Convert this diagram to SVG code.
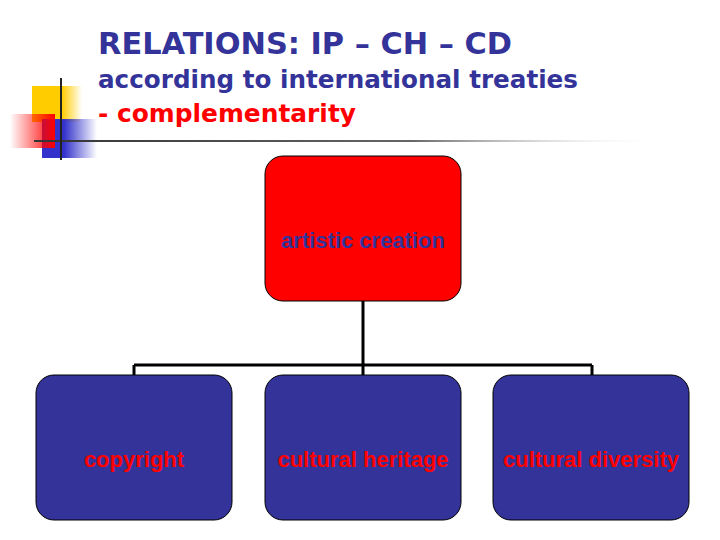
<svg xmlns="http://www.w3.org/2000/svg" width="720" height="540" viewBox="0 0 720 540">
<defs>
<linearGradient id="gy" x1="0" x2="1"><stop offset="0" stop-color="#ffcc00"/><stop offset="0.6" stop-color="#ffcc00"/><stop offset="1" stop-color="#ffcc00" stop-opacity="0"/></linearGradient>
<linearGradient id="gr" x1="0" x2="1"><stop offset="0" stop-color="#ff0000" stop-opacity="0"/><stop offset="1" stop-color="#ff0000"/></linearGradient>
<linearGradient id="gb" x1="0" x2="1"><stop offset="0" stop-color="#3333cc"/><stop offset="0.4" stop-color="#3333cc"/><stop offset="1" stop-color="#3333cc" stop-opacity="0"/></linearGradient>
<linearGradient id="gl" x1="0" x2="1"><stop offset="0" stop-color="#333333"/><stop offset="0.6" stop-color="#666666"/><stop offset="1" stop-color="#ffffff" stop-opacity="0"/></linearGradient>
</defs>
<style>
.t{font-family:"DejaVu Sans",Verdana,sans-serif;font-weight:bold;fill:#333399}
.n{font-family:"Liberation Sans",Arial,sans-serif;font-size:22px;font-weight:bold;text-anchor:middle}
.box{stroke:#000;stroke-width:1}
.c{stroke:#000;stroke-width:3;fill:none}
</style>
<rect width="720" height="540" fill="#fff"/>
<g id="logo">
<rect x="32" y="86" width="50" height="36" fill="url(#gy)"/>
<rect x="42" y="119" width="55" height="39" fill="url(#gb)"/>
<rect x="10" y="114" width="45" height="34" fill="url(#gr)"/>
<rect x="34" y="140" width="630" height="2" fill="url(#gl)"/>
<line x1="61" y1="78" x2="61" y2="160" stroke="#222" stroke-width="2"/>
</g>
<text class="t" x="98" y="54" font-size="30" textLength="414" lengthAdjust="spacingAndGlyphs">RELATIONS: IP – CH – CD</text>
<text class="t" x="98" y="88" font-size="25" textLength="480" lengthAdjust="spacingAndGlyphs">according to international treaties</text>
<text class="t" x="98" y="122" font-size="25" style="fill:#ff0000" textLength="258" lengthAdjust="spacingAndGlyphs">- complementarity</text>
<g id="connectors">
<path class="c" d="M363 301V365M134 365H592M134 365V375M363 365V375M592 365V375"/>
</g>
<g id="n1"><rect class="box" x="265" y="156" width="196" height="145" rx="18" fill="#ff0000"/><text class="n" x="363" y="248" fill="#333399">artistic creation</text></g>
<g id="n2"><rect class="box" x="36" y="375" width="196" height="145" rx="18" fill="#333399"/><text class="n" x="134" y="467" fill="#ff0000">copyright</text></g>
<g id="n3"><rect class="box" x="265" y="375" width="196" height="145" rx="18" fill="#333399"/><text class="n" x="363" y="467" fill="#ff0000">cultural heritage</text></g>
<g id="n4"><rect class="box" x="493" y="375" width="196" height="145" rx="18" fill="#333399"/><text class="n" x="591" y="467" fill="#ff0000">cultural diversity</text></g>
</svg>
